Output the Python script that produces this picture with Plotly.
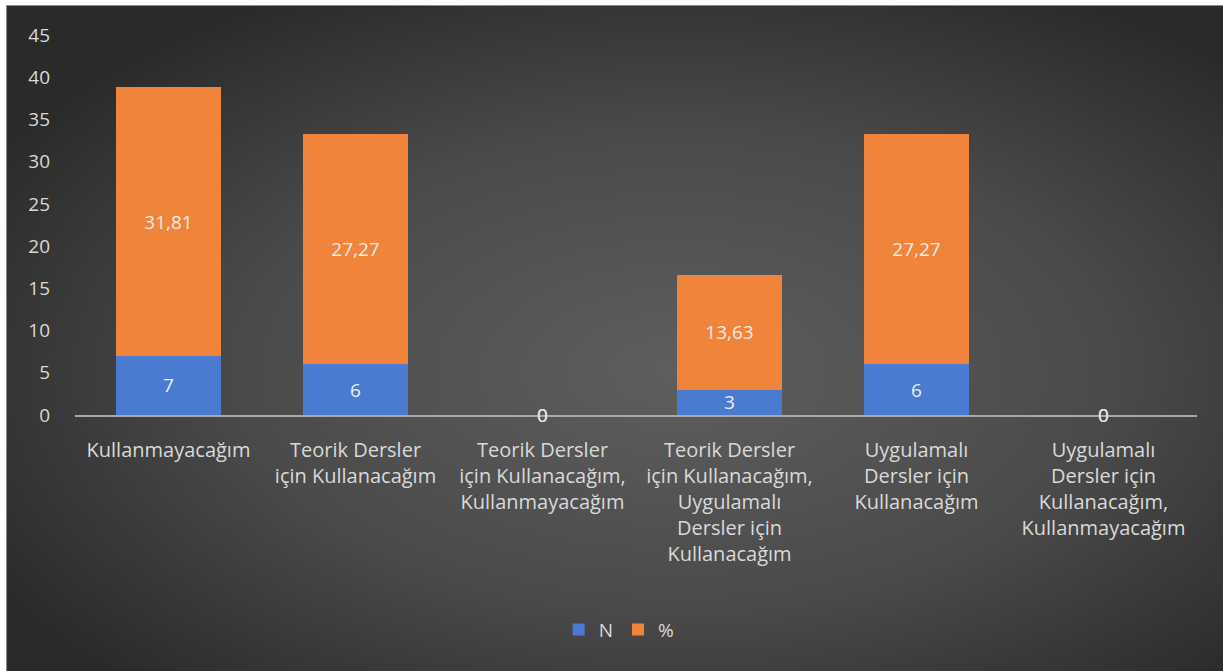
import base64
import plotly.graph_objects as go

categories = [
    "Kullanmayacağım",
    "Teorik Dersler<br>için Kullanacağım",
    "Teorik Dersler<br>için Kullanacağım,<br>Kullanmayacağım",
    "Teorik Dersler<br>için Kullanacağım,<br>Uygulamalı<br>Dersler için<br>Kullanacağım",
    "Uygulamalı<br>Dersler için<br>Kullanacağım",
    "Uygulamalı<br>Dersler için<br>Kullanacağım,<br>Kullanmayacağım",
]
n_values = [7, 6, 0, 3, 6, 0]
pct_values = [31.81, 27.27, 0, 13.63, 27.27, 0]
y_ticks = [0, 5, 10, 15, 20, 25, 30, 35, 40, 45]

W, H = 1223, 671
L, R, T, B = 75, 26, 35, 256
pw, ph = W - L - R, H - T - B

FONT = "Open Sans"
TXT = "#d9d9d9"


def fmt(v):
    return ("%g" % v).replace(".", ",")


fig = go.Figure()
fig.add_trace(go.Bar(
    name="N", x=categories, y=n_values,
    marker=dict(color="#4a7bd0", line=dict(width=0)),
    text=[fmt(v) if v else "" for v in n_values],
    textposition="inside", insidetextanchor="middle",
    textangle=0, constraintext="none",
    textfont=dict(family=FONT, size=19, color="#eeeeee"),
))
fig.add_trace(go.Bar(
    name="%", x=categories, y=pct_values,
    marker=dict(color="#f0843a", line=dict(width=0)),
    text=[fmt(v) if v else "" for v in pct_values],
    textposition="inside", insidetextanchor="middle",
    textangle=0, constraintext="none",
    textfont=dict(family=FONT, size=19, color="#f3ece6"),
))

# zero-value labels sit on the axis
for cat, nv, pv in zip(categories, n_values, pct_values):
    for v in (nv, pv):
        if v == 0:
            fig.add_annotation(x=cat, y=0, text=fmt(v), showarrow=False,
                               font=dict(family=FONT, size=19, color="#e6e6e6"),
                               yanchor="middle", xanchor="center")

svg = f'''<svg xmlns="http://www.w3.org/2000/svg" width="{W-6}" height="{H-5}">
<defs><radialGradient id="g" cx="55%" cy="55%" r="65%">
<stop offset="0" stop-color="#5e5e5e"/><stop offset="0.55" stop-color="#4a4a4a"/><stop offset="1" stop-color="#2a2a2a"/>
</radialGradient></defs>
<rect x="0" y="0" width="{W-6}" height="{H-5}" fill="url(#g)"/>
<line x1="0.5" y1="0" x2="0.5" y2="{H-5}" stroke="#8a8a8a" stroke-width="1"/>
<line x1="0" y1="0.5" x2="{W-6}" y2="0.5" stroke="#8a8a8a" stroke-width="1"/>
</svg>'''
src = "data:image/svg+xml;base64," + base64.b64encode(svg.encode()).decode()

fig.add_layout_image(dict(
    source=src, xref="paper", yref="paper",
    x=(6 - L) / pw, y=(H - B - 5) / ph,
    sizex=(W - 6) / pw, sizey=(H - 5) / ph,
    xanchor="left", yanchor="top", sizing="stretch", layer="below",
))

fig.update_layout(
    width=W, height=H,
    margin=dict(l=L, r=R, t=T, b=B),
    paper_bgcolor="white", plot_bgcolor="rgba(0,0,0,0)",
    barmode="stack", bargap=0.44,
    font=dict(family=FONT, size=19, color=TXT),
    showlegend=True,
    legend=dict(orientation="h", x=0.485, xanchor="center", y=-0.565, yanchor="middle",
                font=dict(family=FONT, size=19, color=TXT),
                bgcolor="rgba(0,0,0,0)", itemwidth=30, traceorder="normal"),
    xaxis=dict(showgrid=False, showline=True, linecolor="#a8a8a8", linewidth=2,
               ticks="", tickfont=dict(family=FONT, size=20, color=TXT),
               ticklabelstandoff=16, tickangle=0),
    yaxis=dict(range=[0, 45], tickvals=y_ticks, showgrid=False, zeroline=False,
               showline=False, ticks="", tickfont=dict(family=FONT, size=19, color=TXT),
               ticklabelstandoff=24),
)

fig.write_html("out.html", config={"displayModeBar": False},
               post_script="document.body.style.margin='0';")
